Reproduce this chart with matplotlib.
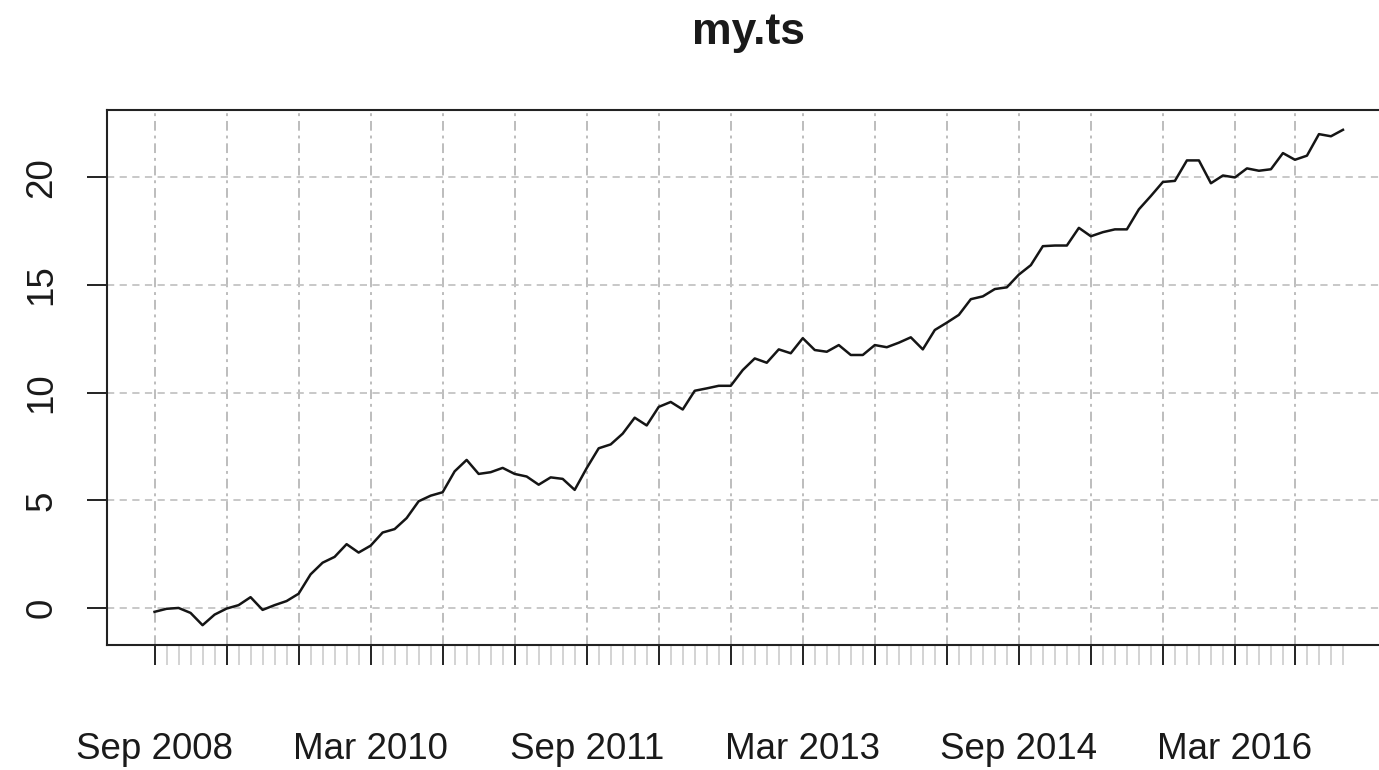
import numpy as np
import pandas as pd
import matplotlib
matplotlib.use("Agg")
import matplotlib.pyplot as plt

# monthly series, Sep 2008 .. Dec 2016
start = "2008-09"
values = [-0.17, -0.03, 0.01, -0.22, -0.79, -0.30, -0.02, 0.14, 0.51, -0.08,
          0.14, 0.33, 0.67, 1.57, 2.11, 2.38, 2.97, 2.58, 2.90, 3.51,
          3.67, 4.18, 4.96, 5.22, 5.38, 6.35, 6.88, 6.23, 6.31, 6.51,
          6.23, 6.11, 5.73, 6.07, 6.00, 5.49, 6.50, 7.42, 7.60, 8.10,
          8.84, 8.48, 9.34, 9.57, 9.22, 10.09, 10.20, 10.32, 10.32, 11.05,
          11.59, 11.39, 12.01, 11.83, 12.53, 11.98, 11.90, 12.21, 11.75, 11.75,
          12.21, 12.11, 12.32, 12.57, 12.01, 12.91, 13.25, 13.61, 14.34, 14.47,
          14.81, 14.89, 15.48, 15.92, 16.80, 16.83, 16.83, 17.65, 17.26, 17.45,
          17.58, 17.58, 18.51, 19.13, 19.78, 19.83, 20.78, 20.78, 19.72, 20.08,
          19.99, 20.41, 20.30, 20.37, 21.12, 20.81, 21.00, 22.00, 21.90, 22.20]

major_months = ["2008-09", "2009-03", "2009-09", "2010-03", "2010-09", "2011-03",
                "2011-09", "2012-03", "2012-09", "2013-03", "2013-09", "2014-03",
                "2014-09", "2015-03", "2015-09", "2016-03", "2016-08"]
label_months = ["2008-09", "2010-03", "2011-09", "2013-03", "2014-09", "2016-03"]
y_ticks = [0, 5, 10, 15, 20]
title = "my.ts"

months = pd.period_range(start, periods=len(values), freq="M")
p0 = pd.Period(start, freq="M")
x = np.array([(m - p0).n for m in months])
y = np.array(values)
major_x = [(pd.Period(m, freq="M") - p0).n for m in major_months]
major_lab = [pd.Period(m, freq="M").strftime("%b %Y") if m in label_months else ""
             for m in major_months]

plt.rcParams["font.family"] = ["Liberation Sans", "DejaVu Sans"]
fig = plt.figure(figsize=(13.79, 7.70), dpi=100)
ax = fig.add_axes([107 / 1379, 125 / 770, 1283.5 / 1379, 535 / 770])

ax.plot(x, y, color="#151515", lw=1.8, zorder=3)

# R style 4% padding
xr = x.max() - x.min()
yr = y.max() - y.min()
ax.set_xlim(x.min() - 0.04 * xr, x.max() + 0.04 * xr)
ax.set_ylim(y.min() - 0.04 * yr, y.max() + 0.04 * yr)

ax.set_xticks(major_x)
ax.set_xticklabels(major_lab)
ax.set_xticks(x, minor=True)
ax.set_yticks(y_ticks)
ax.set_yticklabels([str(v) for v in y_ticks])

ax.tick_params(axis="x", which="major", length=14.4, width=1.4, color="#222222",
               pad=48, labelsize=26.5, labelcolor="#1a1a1a")
ax.tick_params(axis="x", which="minor", length=14.4, width=1.2, color="#cccccc")
ax.tick_params(axis="y", which="major", length=14.4, width=1.4, color="#222222",
               pad=20, labelsize=26.5, labelcolor="#1a1a1a", labelrotation=90)
for lab in ax.get_yticklabels():
    lab.set_verticalalignment("center")

ax.xaxis.grid(True, which="major", color="#bdbdbd", lw=1.4, linestyle=(0, (5, 2.5, 1.5, 2.5)))
ax.yaxis.grid(True, which="major", color="#c4c4c4", lw=1.3, linestyle=(0, (4, 3)))
ax.set_axisbelow(True)

for s in ax.spines.values():
    s.set_color("#222222")
    s.set_linewidth(1.5)

fig.text((107 + 1390.5) / 2 / 1379, 1 - 44 / 770, title, ha="center", va="baseline",
         fontsize=32, fontweight="bold", color="#1a1a1a")

fig.savefig("out.png", dpi=100)
